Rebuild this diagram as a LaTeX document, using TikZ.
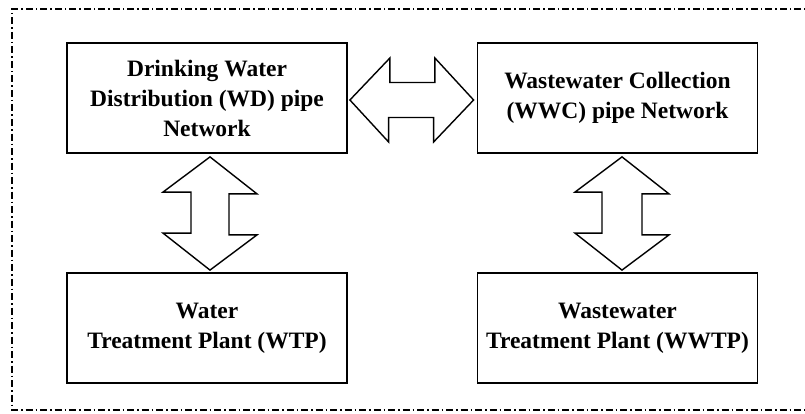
\documentclass[tikz,border=0pt]{standalone}
\usepackage{fontspec}
\setmainfont{Liberation Serif}
\usetikzlibrary{calc}
\begin{document}
\begin{tikzpicture}[x=1pt,y=1pt,
  unitbox/.style={draw, line width=1.8pt, minimum width=280pt, minimum height=110pt,
    inner sep=0pt, align=center, font=\fontsize{23.5}{30}\selectfont\bfseries},
  fatarrow/.style={draw, line width=1.4pt, fill=white, line join=miter},
  frame/.style={line width=1.2pt, dash pattern=on 7pt off 3pt on 1.5pt off 3pt}]
  \useasboundingbox (0,0) rectangle (805,413);

  % outer dash-dot boundary
  \draw[frame] (830,404) -- (12,404) -- (12,3) -- (830,3);

  % the four units
  \node[unitbox] (wd)   at (207,315)   {Drinking Water\\Distribution (WD) pipe\\Network};
  \node[unitbox] (wwc)  at (617.5,315) {Wastewater Collection\\(WWC) pipe Network};
  \node[unitbox] (wtp)  at (207,85)    {Water\\Treatment Plant (WTP)};
  \node[unitbox] (wwtp) at (617.5,85)  {Wastewater\\Treatment Plant (WWTP)};

  % two-way block arrow between the pipe networks
  \draw[fatarrow] ($(wd.east)+(2,-2)$) -- ++(40,42) -- ++(0,-24.5) -- ++(45,0) -- ++(0,24.5)
    -- ($(wwc.west)+(-3,-2)$) -- ++(-40,-42) -- ++(0,24.5) -- ++(-45,0) -- ++(0,-24.5) -- cycle;

  % two-way block arrow between distribution network and WTP
  \draw[fatarrow] ($(wd.south)+(3,-3)$) -- ++(47,-37) -- ++(-28,0) -- ++(0,-41) -- ++(28,0)
    -- ($(wtp.north)+(3,2)$) -- ++(-47,37) -- ++(28,0) -- ++(0,41) -- ++(-28,0) -- cycle;

  % two-way block arrow between collection network and WWTP
  \draw[fatarrow] ($(wwc.south)+(4.5,-3)$) -- ++(47,-37) -- ++(-27,0) -- ++(0,-41) -- ++(27,0)
    -- ($(wwtp.north)+(4.5,2)$) -- ++(-47,37) -- ++(27,0) -- ++(0,41) -- ++(-27,0) -- cycle;
\end{tikzpicture}
\end{document}
